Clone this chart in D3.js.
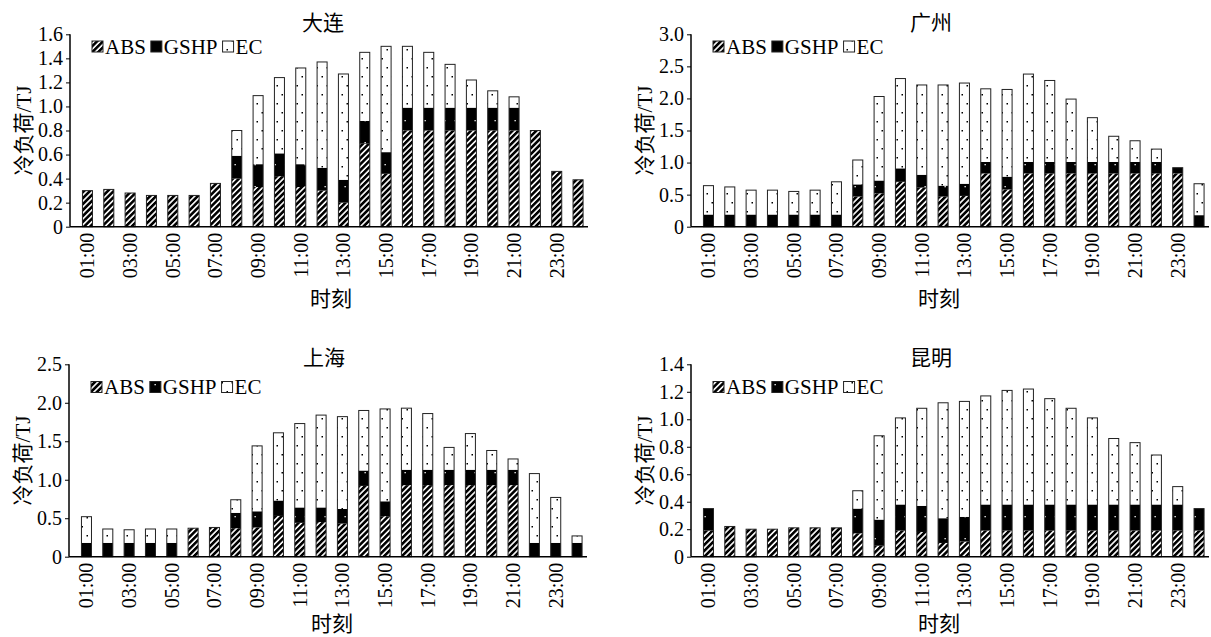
<!DOCTYPE html>
<html>
<head>
<meta charset="utf-8">
<script src="https://cdn.jsdelivr.net/npm/d3@7"></script>
<style>
  body { margin: 0; background: #fff; }
  text { font-family: "Liberation Serif", "Times New Roman", "Noto Sans CJK SC", serif; fill: #000; }
</style>
</head>
<body>
<svg id="chart" width="1211" height="637"></svg>
<script>
// Hourly cooling load (TJ) by source for four cities
const hours = ["01:00","02:00","03:00","04:00","05:00","06:00","07:00","08:00","09:00","10:00","11:00","12:00",
               "13:00","14:00","15:00","16:00","17:00","18:00","19:00","20:00","21:00","22:00","23:00","24:00"];
const tickLabels = ["01:00","03:00","05:00","07:00","09:00","11:00","13:00","15:00","17:00","19:00","21:00","23:00"];
const seriesNames = ["ABS", "GSHP", "EC"];

const dalianABS  = [0.30,0.31,0.28,0.26,0.26,0.26,0.36,0.40,0.33,0.42,0.33,0.30,0.20,0.69,0.44,0.80,0.80,0.80,0.80,0.80,0.80,0.80,0.46,0.39];
const dalianGSHP = [0,0,0,0,0,0,0,0.19,0.19,0.19,0.19,0.19,0.19,0.19,0.18,0.19,0.19,0.19,0.19,0.19,0.19,0,0,0];
const dalianEC   = [0,0,0,0,0,0,0,0.21,0.57,0.63,0.80,0.88,0.88,0.57,0.88,0.51,0.46,0.36,0.23,0.14,0.09,0,0,0];

const guangzhouABS  = [0,0,0,0,0,0,0,0.47,0.52,0.70,0.61,0.47,0.48,0.83,0.58,0.83,0.83,0.83,0.83,0.83,0.83,0.83,0.83,0];
const guangzhouGSHP = [0.19,0.19,0.19,0.19,0.19,0.19,0.19,0.19,0.20,0.21,0.20,0.17,0.19,0.18,0.20,0.18,0.18,0.18,0.18,0.18,0.18,0.18,0.09,0.18];
const guangzhouEC   = [0.45,0.43,0.38,0.38,0.36,0.38,0.51,0.38,1.31,1.40,1.40,1.57,1.57,1.14,1.36,1.37,1.27,0.98,0.69,0.40,0.33,0.20,0,0.49];

const shanghaiABS  = [0,0,0,0,0,0.37,0.38,0.37,0.38,0.53,0.44,0.45,0.43,0.92,0.52,0.93,0.93,0.93,0.93,0.93,0.93,0,0,0];
const shanghaiGSHP = [0.18,0.18,0.18,0.18,0.18,0,0,0.20,0.21,0.20,0.20,0.19,0.19,0.20,0.20,0.20,0.20,0.20,0.20,0.20,0.20,0.18,0.18,0.18];
const shanghaiEC   = [0.34,0.18,0.17,0.18,0.18,0,0,0.17,0.85,0.88,1.09,1.20,1.20,0.78,1.20,0.80,0.73,0.29,0.47,0.25,0.14,0.90,0.59,0.09];

const kunmingABS  = [0.19,0.22,0.20,0.20,0.21,0.21,0.21,0.17,0.08,0.19,0.18,0.10,0.11,0.19,0.19,0.19,0.19,0.19,0.19,0.19,0.19,0.19,0.19,0.19];
const kunmingGSHP = [0.16,0,0,0,0,0,0,0.18,0.19,0.19,0.19,0.18,0.18,0.19,0.19,0.19,0.19,0.19,0.19,0.19,0.19,0.19,0.19,0.16];
const kunmingEC   = [0,0,0,0,0,0,0,0.13,0.61,0.63,0.71,0.84,0.84,0.79,0.83,0.84,0.77,0.70,0.63,0.48,0.45,0.36,0.13,0];

const dalianTicks    = [0,0.2,0.4,0.6,0.8,1.0,1.2,1.4,1.6];
const guangzhouTicks = [0,0.5,1.0,1.5,2.0,2.5,3.0];
const shanghaiTicks  = [0,0.5,1.0,1.5,2.0,2.5];
const kunmingTicks   = [0,0.2,0.4,0.6,0.8,1.0,1.2,1.4];

const yTitle = "冷负荷/TJ";
const xTitle = "时刻";

const panels = [
  { city: "大连", series: [dalianABS, dalianGSHP, dalianEC], ticks: dalianTicks,
    x0: 70, y0: 226.7, y1: 34.3, titleX: 323, titleY: 22, legendY: 46.5, xTitleY: 298.5 },
  { city: "广州", series: [guangzhouABS, guangzhouGSHP, guangzhouEC], ticks: guangzhouTicks,
    x0: 691, y0: 226.7, y1: 34.3, titleX: 931, titleY: 22, legendY: 46.5, xTitleY: 298.5 },
  { city: "上海", series: [shanghaiABS, shanghaiGSHP, shanghaiEC], ticks: shanghaiTicks,
    x0: 69, y0: 556.7, y1: 364.3, titleX: 324, titleY: 357.5, legendY: 387, xTitleY: 623.5 },
  { city: "昆明", series: [kunmingABS, kunmingGSHP, kunmingEC], ticks: kunmingTicks,
    x0: 691, y0: 556.7, y1: 364.3, titleX: 931, titleY: 357.5, legendY: 387, xTitleY: 623.5 }
];

const svg = d3.select("#chart");

// Fill patterns: hatched ABS, black GSHP with sparse specks, lightly dotted EC
const defs = svg.append("defs");
const pAbs = defs.append("pattern").attr("id", "pat-abs")
  .attr("patternUnits", "userSpaceOnUse").attr("width", 4.2).attr("height", 4.2)
  .attr("patternTransform", "rotate(45)");
pAbs.append("rect").attr("width", 4.2).attr("height", 4.2).attr("fill", "#fff");
pAbs.append("rect").attr("width", 2.6).attr("height", 4.2).attr("fill", "#000");

const pG = defs.append("pattern").attr("id", "pat-gshp")
  .attr("patternUnits", "userSpaceOnUse").attr("width", 10).attr("height", 22);
pG.append("rect").attr("width", 10).attr("height", 22).attr("fill", "#000");
pG.append("rect").attr("x", 4.5).attr("y", 10).attr("width", 1.3).attr("height", 1.3).attr("fill", "#fff");

const pE = defs.append("pattern").attr("id", "pat-ec")
  .attr("patternUnits", "userSpaceOnUse").attr("width", 10).attr("height", 18);
pE.append("rect").attr("width", 10).attr("height", 18).attr("fill", "#fff");
pE.append("rect").attr("x", 1.5).attr("y", 4).attr("width", 1.5).attr("height", 1.5).attr("fill", "#000");
pE.append("rect").attr("x", 6.5).attr("y", 13).attr("width", 1.5).attr("height", 1.5).attr("fill", "#000");

const fills = { ABS: "url(#pat-abs)", GSHP: "url(#pat-gshp)", EC: "url(#pat-ec)" };

const fmt = v => v === 0 ? "0" : d3.format(".1f")(v);

panels.forEach(p => {
  const g = svg.append("g");
  const rows = hours.map((h, i) => ({ hour: h, ABS: p.series[0][i], GSHP: p.series[1][i], EC: p.series[2][i] }));
  const stacked = d3.stack().keys(seriesNames)(rows);

  const step = 21.33;
  const x = d3.scaleBand().domain(hours)
    .range([p.x0 + 6.8, p.x0 + 6.8 + step * hours.length])
    .paddingInner(0.53).paddingOuter(0.265);
  const yMax = p.ticks[p.ticks.length - 1];
  const y = d3.scaleLinear().domain([0, yMax]).range([p.y0, p.y1]);

  // stacked segments
  stacked.forEach(layer => {
    g.append("g").selectAll("rect")
      .data(layer.filter(d => d[1] - d[0] > 0))
      .join("rect")
      .attr("x", d => x(d.data.hour))
      .attr("width", x.bandwidth())
      .attr("y", d => y(d[1]))
      .attr("height", d => y(d[0]) - y(d[1]))
      .attr("fill", fills[layer.key]);
  });

  // outline around each full bar
  const top = stacked[stacked.length - 1];
  g.append("g").selectAll("rect")
    .data(top)
    .join("rect")
    .attr("x", d => x(d.data.hour))
    .attr("width", x.bandwidth())
    .attr("y", d => y(d[1]))
    .attr("height", d => y(0) - y(d[1]))
    .attr("fill", "none")
    .attr("stroke", "#222")
    .attr("stroke-width", 1);

  // y axis
  const yAxis = d3.axisLeft(y).tickValues(p.ticks).tickFormat(fmt).tickSize(4).tickPadding(3);
  const ya = g.append("g").attr("transform", `translate(${p.x0},0)`).call(yAxis);
  ya.select(".domain").attr("stroke", "#000").attr("stroke-width", 1.5).attr("d", `M0,${p.y0}V${p.y1}`);
  ya.selectAll(".tick line").attr("stroke", "#000").attr("stroke-width", 1);
  ya.selectAll(".tick text").attr("font-size", 20).style("font-family", '"Liberation Serif", serif');

  // x axis line
  g.append("line")
    .attr("x1", p.x0).attr("x2", p.x0 + 518)
    .attr("y1", p.y0).attr("y2", p.y0)
    .attr("stroke", "#000").attr("stroke-width", 1.5);

  // x tick labels (rotated, every other hour)
  g.append("g").selectAll("text")
    .data(tickLabels)
    .join("text")
    .attr("transform", d => `translate(${x(d) + x.bandwidth() / 2},${p.y0 + 6}) rotate(-90)`)
    .attr("text-anchor", "end")
    .attr("dy", "0.35em")
    .attr("font-size", 20)
    .text(d => d);

  // titles
  g.append("text").attr("x", p.titleX).attr("y", p.titleY).attr("dy", "0.36em")
    .attr("text-anchor", "middle").attr("font-size", 21).text(p.city);
  g.append("text").attr("x", p.titleX + 8).attr("y", p.xTitleY).attr("dy", "0.36em")
    .attr("text-anchor", "middle").attr("font-size", 21).text(xTitle);
  g.append("text")
    .attr("transform", `translate(${p.x0 - 47},${(p.y0 + p.y1) / 2}) rotate(-90)`)
    .attr("text-anchor", "middle").attr("dy", "0.36em")
    .attr("font-size", 21).text(yTitle);

  // legend
  let lx = p.x0 + 22;
  seriesNames.forEach(name => {
    g.append("rect").attr("x", lx).attr("y", p.legendY - 5.5).attr("width", 11).attr("height", 11)
      .attr("fill", fills[name]).attr("stroke", "#222").attr("stroke-width", 1);
    const t = g.append("text").attr("x", lx + 13).attr("y", p.legendY).attr("dy", "0.35em")
      .attr("font-size", 21).text(name);
    lx += 13 + t.node().getComputedTextLength() + 5;
  });
});
</script>
</body>
</html>
